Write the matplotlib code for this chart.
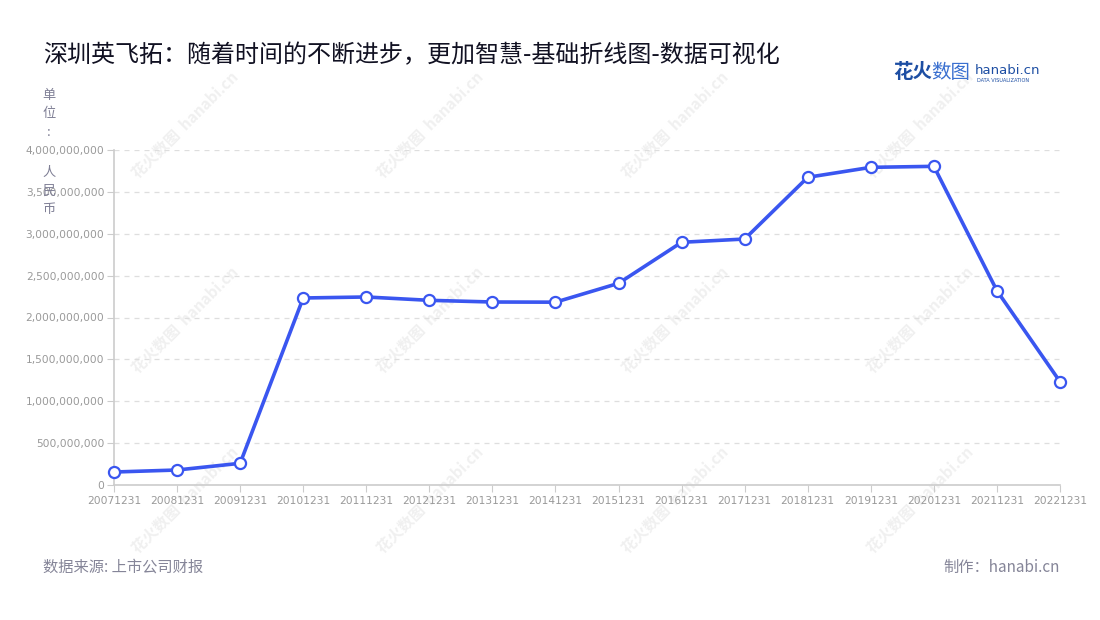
import matplotlib
matplotlib.use('Agg')
import matplotlib.pyplot as plt
import numpy as np

plt.rcParams['font.family'] = ['Noto Sans CJK SC', 'DejaVu Sans']

# data
dates = ['20071231', '20081231', '20091231', '20101231', '20111231', '20121231',
         '20131231', '20141231', '20151231', '20161231', '20171231', '20181231',
         '20191231', '20201231', '20211231', '20221231']
values = [1.55e8, 1.79e8, 2.59e8, 2.233e9, 2.245e9, 2.205e9,
          2.185e9, 2.183e9, 2.408e9, 2.898e9, 2.937e9, 3.674e9,
          3.793e9, 3.805e9, 2.320e9, 1.234e9]
y_ticks = [0, 5e8, 1e9, 1.5e9, 2e9, 2.5e9, 3e9, 3.5e9, 4e9]

title = '深圳英飞拓：随着时间的不断进步，更加智慧-基础折线图-数据可视化'
source = '数据来源: 上市公司财报'
maker = '制作：hanabi.cn'

W, H = 1100, 620
fig = plt.figure(figsize=(11, 6.2), dpi=100)
ax = fig.add_axes([114 / W, (H - 485) / H, (1060 - 114) / W, (485 - 150) / H])

# faint watermarks, kept behind the axes
for cx in [185, 430, 675, 920]:
    for cy in [125, 320, 500]:
        fig.text(cx / W, 1 - cy / H, '花火数图  hanabi.cn', rotation=45,
                 ha='center', va='center', fontsize=11, color='#f0f0f0',
                 fontweight='bold', zorder=-5)

x = np.arange(len(dates))
ax.plot(x, values, color='#3a56f0', linewidth=2.6, marker='o', markersize=8,
        markerfacecolor='white', markeredgecolor='#3a56f0', markeredgewidth=1.6,
        zorder=3, clip_on=False)

ax.set_xlim(0, len(dates) - 1)
ax.set_ylim(0, 4e9)
ax.set_yticks(y_ticks)
ax.set_yticklabels([f'{int(v):,}' for v in y_ticks])
ax.set_xticks(x)
ax.set_xticklabels(dates)
ax.patch.set_alpha(0)

ax.grid(axis='y', linestyle=(0, (4, 4)), color='#dedede', linewidth=0.9)
ax.set_axisbelow(True)
for s in ['top', 'right']:
    ax.spines[s].set_visible(False)
ax.spines['left'].set_color('#cccccc')
ax.spines['bottom'].set_color('#cccccc')
ax.spines['left'].set_linewidth(1.2)
ax.spines['bottom'].set_linewidth(1.2)
ax.tick_params(axis='both', colors='#cccccc', labelcolor='#999999', length=5)
for lab in ax.get_xticklabels() + ax.get_yticklabels():
    lab.set_fontfamily('DejaVu Sans')
    lab.set_fontsize(7.7)
ax.tick_params(axis='x', pad=3)
ax.tick_params(axis='y', pad=2)

# title
fig.text(43 / W, 1 - 55 / H, title, fontsize=17.3, color='#111122',
         ha='left', va='center')

# stacked unit label (单位：人民币, one char per line)
y0 = 95
for ch in ['单', '位', ':', ' ', '人', '民', '币']:
    if ch.strip():
        fig.text(49 / W, 1 - y0 / H, ch, fontsize=9.5, color='#7f7f95',
                 ha='center', va='center')
    y0 += 19 if ch != ' ' else 20

# logo
fig.text(893 / W, 1 - 72 / H, '花火', fontsize=14, color='#1d4ea3',
         fontweight='bold', ha='left', va='center')
fig.text(931 / W, 1 - 72 / H, '数图', fontsize=14, color='#3a70d0',
         ha='left', va='center')
fig.text(975 / W, 1 - 70 / H, 'hanabi.cn', fontsize=9.5, color='#1d4ea3',
         ha='left', va='center', family='DejaVu Sans')
fig.text(977 / W, 1 - 80 / H, 'DATA VISUALIZATION', fontsize=3.6,
         color='#1d4ea3', ha='left', va='center', family='DejaVu Sans')

# footer
fig.text(43 / W, 1 - 567 / H, source, fontsize=11, color='#858598',
         ha='left', va='center')
fig.text(1060 / W, 1 - 567 / H, maker, fontsize=11, color='#858598',
         ha='right', va='center')

fig.savefig('out.png', dpi=100)
